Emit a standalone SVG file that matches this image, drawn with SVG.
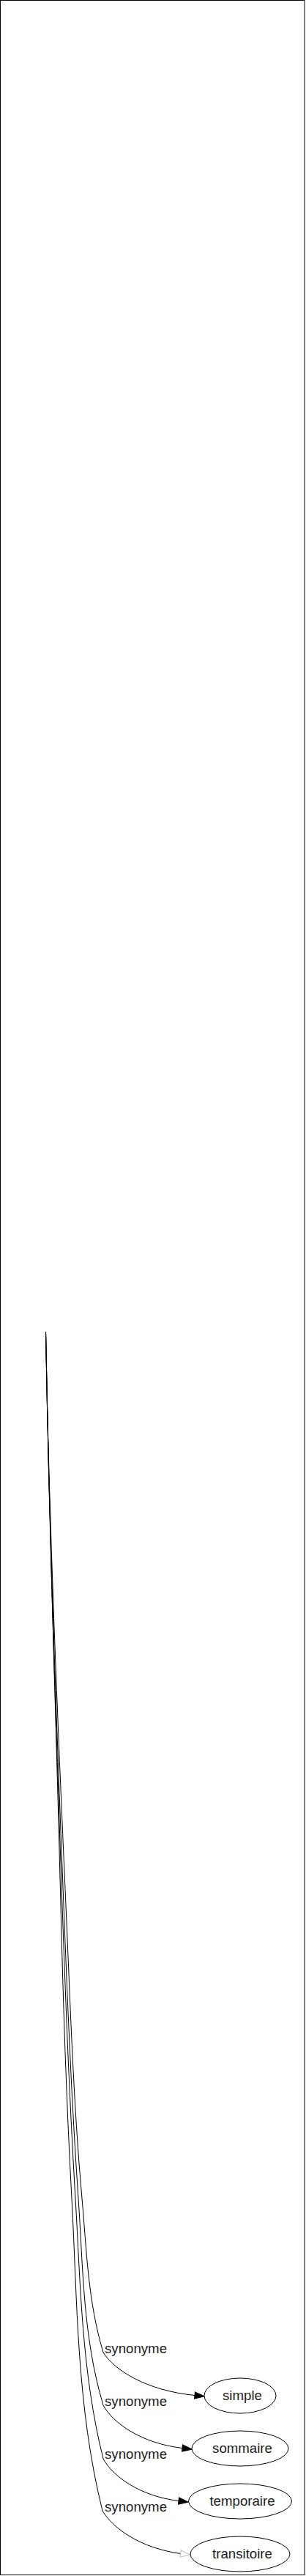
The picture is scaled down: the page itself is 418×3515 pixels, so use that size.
<svg xmlns="http://www.w3.org/2000/svg" width="418" height="3515" viewBox="0 0 418 3515">
<style>
.edge{fill:none;stroke:#000;stroke-width:1}
.node ellipse{fill:#fff;stroke:#000;stroke-width:1}
text{font-family:"Liberation Sans",Arial,sans-serif;font-size:18.67px;fill:#222}
.nl{text-anchor:middle}
</style>
<defs>
<marker id="arr" viewBox="0 -6 15 12" refX="0" refY="0" markerWidth="15" markerHeight="12" markerUnits="userSpaceOnUse" orient="auto" overflow="visible">
<path d="M0,-4.67 L13.3,0 L0,4.67 Z" fill="#000" stroke="#000" stroke-width="1"/>
</marker>
<marker id="arrl" viewBox="0 -6 15 12" refX="0" refY="0" markerWidth="15" markerHeight="12" markerUnits="userSpaceOnUse" orient="auto" overflow="visible">
<path d="M0,-4.67 L13.3,0 L0,4.67 Z" fill="#fff" stroke="#bbb" stroke-width="1"/>
</marker>
</defs>
<rect x="0.5" y="0.5" width="415.5" height="3513" fill="#fff" stroke="#000" stroke-width="1"/>
<g id="edges">
<path class="edge" marker-end="url(#arr)" d="M62.5,1817 C67,2078 78.3,2339 90,2600 C96,2733 100,2867 112,3000 C118.3,3070 120,3140 141,3210 C156,3234 200,3262 266,3268.5"/>
<path class="edge" marker-end="url(#arr)" d="M62.5,1817 C67,2078 76.6,2339 87,2600 C92.3,2733 97.7,2867 107,3000 C113.6,3094 113,3188 141,3282 C154,3306 193,3334 249,3340.5"/>
<path class="edge" marker-end="url(#arr)" d="M62.5,1817 C67,2078 75.9,2339 85,2600 C89.7,2733 95,2867 103,3000 C110.1,3118 111.4,3237 141,3355 C154,3379 191,3406 244,3412.5"/>
<path class="edge" marker-end="url(#arrl)" d="M62.5,1817 C67,2078 76.5,2339 83,2600 C86.3,2733 90.7,2867 98,3000 C105.8,3142 104.5,3284 140,3426 C154,3450 192,3477 246.7,3484.5"/>
<text x="143" y="3211">synonyme</text>
<text x="143" y="3283">synonyme</text>
<text x="143" y="3355">synonyme</text>
<text x="143" y="3427">synonyme</text>
</g>
<g id="node-simple" class="node">
<ellipse cx="328" cy="3269" rx="49" ry="24"/>
<text class="nl" x="331" y="3275">simple</text>
</g>
<g id="node-sommaire" class="node">
<ellipse cx="328" cy="3341" rx="66" ry="24"/>
<text class="nl" x="331" y="3347">sommaire</text>
</g>
<g id="node-temporaire" class="node">
<ellipse cx="328" cy="3413" rx="70.5" ry="24"/>
<text class="nl" x="331" y="3419">temporaire</text>
</g>
<g id="node-transitoire" class="node">
<ellipse cx="328" cy="3485" rx="68" ry="24"/>
<text class="nl" x="331" y="3491">transitoire</text>
</g>
</svg>
